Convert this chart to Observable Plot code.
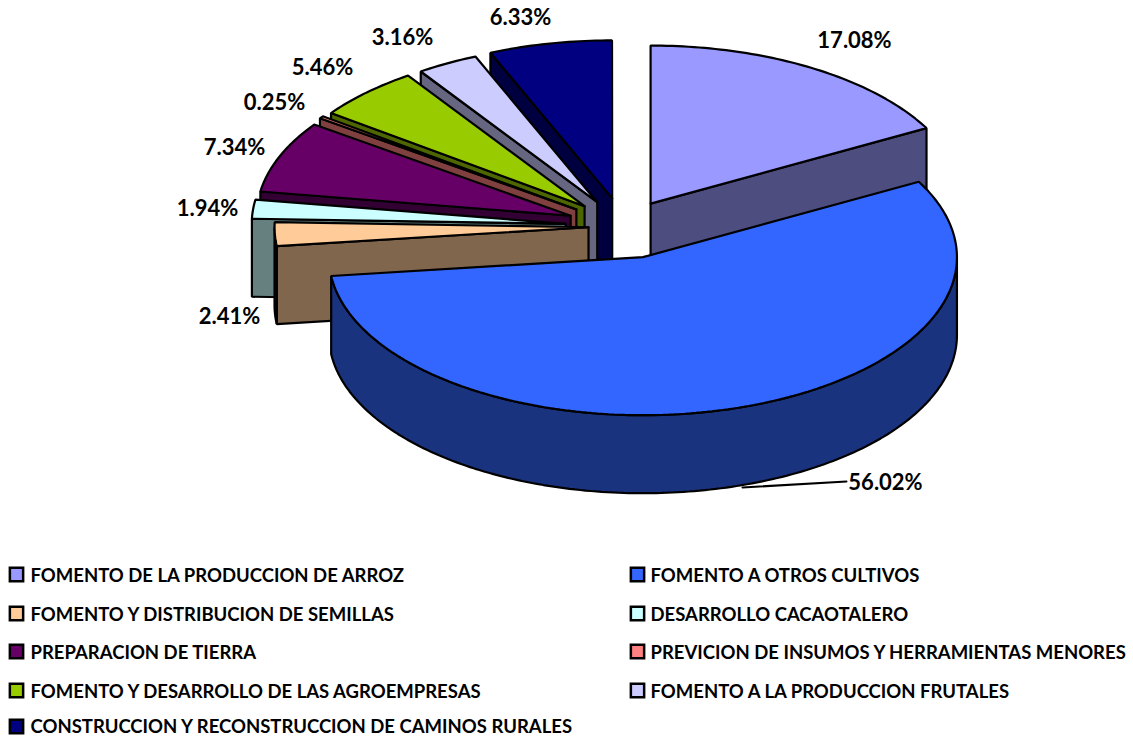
<!DOCTYPE html>
<html><head><meta charset="utf-8">
<script src="https://cdn.jsdelivr.net/npm/d3@7"></script>
<script src="https://cdn.jsdelivr.net/npm/@observablehq/plot@0.6"></script>
<style>html,body{margin:0;padding:0;background:#fff}svg{display:block}</style>
</head><body><div id="chart"></div>
<script>
// Data, in clockwise order from 12 o'clock
const categories = [
  "FOMENTO DE LA PRODUCCION DE ARROZ","FOMENTO A OTROS CULTIVOS",
  "FOMENTO Y DISTRIBUCION DE SEMILLAS","DESARROLLO CACAOTALERO",
  "PREPARACION DE TIERRA","PREVICION DE INSUMOS Y HERRAMIENTAS MENORES",
  "FOMENTO Y DESARROLLO DE LAS AGROEMPRESAS","FOMENTO A LA PRODUCCION FRUTALES",
  "CONSTRUCCION Y RECONSTRUCCION DE CAMINOS RURALES"];
const shares = [17.08,56.02,2.41,1.94,7.34,0.25,5.46,3.16,6.33];
const topColors  = ["#9999ff","#3366ff","#ffcc99","#ccffff","#660066","#ff8080","#99cc00","#ccccff","#000080"];
const sideColors = ["#4d4d80","#1a337f","#80664d","#668080","#330033","#804040","#4d6600","#666680","#000040"];
// Layout: each slice's explosion, and the label anchors
const explode = [53,64,35,58,57,58,56,55,57];
const labelX = [854,885,229,207,234,274,322,402,520];
const labelY = [40,482,316,208,147,102,67,37,17];
const CX=623, CY=226, RX=314, RY=158, DEPTH=78;

const total = 100;
let cum = 0;
const slices = shares.map((v,i)=>{
  const a0 = cum/total*360; cum += v; const a1 = cum/total*360;
  const mid = (a0+a1)/2*Math.PI/180;
  return {i,a0,a1,ax:CX+explode[i]*Math.sin(mid),ay:CY-explode[i]*Math.cos(mid)*RY/RX};
});
const pt=(s,deg,dz=0)=>{const t=deg*Math.PI/180;return [s.ax+RX*Math.sin(t),s.ay-RY*Math.cos(t)+dz];};
const faces=[];
function addFace(id,color,pts){pts.forEach(p=>faces.push({id,color,x:p[0],y:p[1]}));}
const arc=(s,a,b,dz=0)=>{const n=Math.max(2,Math.ceil(Math.abs(b-a)));return d3.range(n+1).map(k=>pt(s,a+(b-a)*k/n,dz));};

// Painter's order: back slices first, the two front ones last
[8,7,6,5,4,3,2,0,1].forEach(i=>{
  const s=slices[i];
  const apex=[s.ax,s.ay], apexLow=[s.ax,s.ay+DEPTH];
  if(i===0){ // right-hand cut face of the first slice
    addFace("cut"+i,sideColors[i],[apex,pt(s,s.a1),pt(s,s.a1,DEPTH),apexLow,apex]);
  } else if(s.a0>180){ // left-hand slices show their lower cut face
    addFace("cut"+i,sideColors[i],[apex,pt(s,s.a0),pt(s,s.a0,DEPTH),apexLow,apex]);
  }
  const w0=Math.max(s.a0,90), w1=Math.min(s.a1,270);
  if(w1>w0){ // outer wall on the front half
    const up=arc(s,w0,w1), low=arc(s,w1,w0,DEPTH);
    addFace("wall"+i,sideColors[i],[...up,...low,up[0]]);
  }
  addFace("top"+i,topColors[i],[apex,...arc(s,s.a0,s.a1),apex]);
});

const labels=shares.map((v,i)=>({t:d3.format(".2f")(v)+"%",x:labelX[i],y:labelY[i]}));
const leader=[{x:742,y:487},{x:846,y:481}];
const legendCols=[16,637], legendTextCols=[30,650], legendRows=[574,613,651,690,726];
const legendTextRows=[576,615,653,692,726.5];
const legend=categories.map((c,i)=>({c,color:topColors[i],
  x:legendCols[i%2],tx:legendTextCols[i%2],y:legendRows[Math.floor(i/2)],ty:legendTextRows[Math.floor(i/2)]}));
const font="Lato, Carlito, Calibri, sans-serif";

const chart=Plot.plot({
  width:1133,height:738,margin:0,axis:null,
  x:{domain:[0,1133],range:[0,1133]},
  y:{domain:[0,738],range:[0,738]},
  color:{type:"identity"},
  marks:[
    Plot.line(faces,{x:"x",y:"y",z:"id",fill:"color",stroke:"#000",strokeWidth:2.2,strokeLinejoin:"miter",curve:"linear"}),
    Plot.line(leader,{x:"x",y:"y",stroke:"#000",strokeWidth:2}),
    Plot.text(labels,{x:"x",y:"y",text:"t",fontFamily:font,fontWeight:700,fontSize:22,fill:"#000"}),
    Plot.dot(legend,{x:"x",y:"y",symbol:"square",r:7.5,fill:"color",stroke:"#000",strokeWidth:2.5}),
    Plot.text(legend,{x:"tx",y:"ty",text:"c",textAnchor:"start",fontFamily:font,fontWeight:700,fontSize:18.5,fill:"#000"})
  ]
});
document.getElementById("chart").appendChild(chart);
</script></body></html>
